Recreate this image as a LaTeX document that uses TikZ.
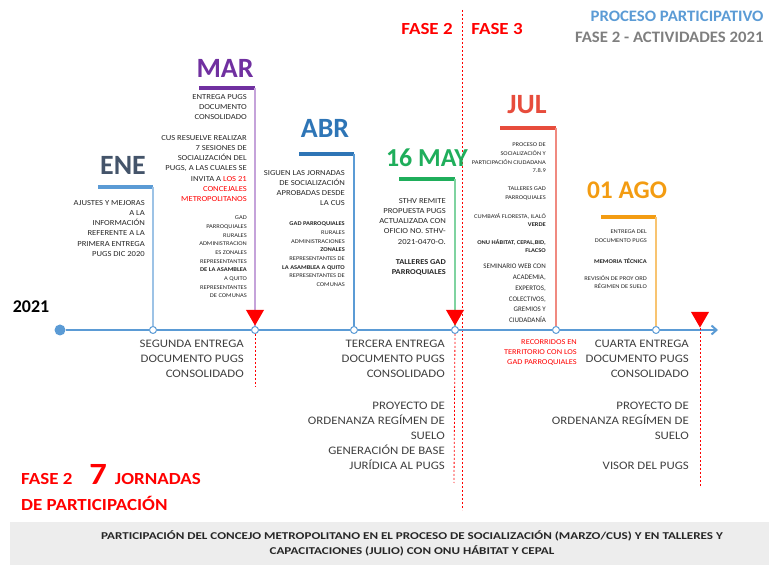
\documentclass[tikz,border=0pt]{standalone}
\usepackage{fontspec}
\setmainfont{Carlito}
\newfontfamily\widefont{Carlito}[FakeStretch=1.12]
\newfontfamily\titlefont{Carlito}[FakeStretch=1.05]
\newfontfamily\boxfont{Carlito}[FakeStretch=1.25]
\usetikzlibrary{positioning,shapes.geometric,arrows.meta}
\definecolor{tlblue}{HTML}{5B9BD5}
\definecolor{tllight}{HTML}{9DC3E6}
\definecolor{enecol}{HTML}{44546A}
\definecolor{marcol}{HTML}{7030A0}
\definecolor{marlight}{HTML}{C5A3DA}
\definecolor{abrcol}{HTML}{2E75B6}
\definecolor{maycol}{HTML}{1FAE5B}
\definecolor{maylight}{HTML}{7FD3A0}
\definecolor{julcol}{HTML}{E74C3C}
\definecolor{jullight}{HTML}{F08A80}
\definecolor{agocol}{HTML}{F39C12}
\definecolor{agolight}{HTML}{F8C471}
\definecolor{txtdark}{HTML}{262626}
\definecolor{txtgray}{HTML}{404040}
\definecolor{titlegray}{HTML}{7F7F7F}
\definecolor{boxgray}{HTML}{EDEDED}
\begin{document}
\begin{tikzpicture}[>=latex,line join=bevel,
  tl/.style={draw=tlblue,line width=2bp},
  evt/.style={circle,draw=tlblue,fill=white,line width=1bp,minimum size=7bp,inner sep=0pt},
  bar/.style={line width=4bp},
  vline/.style={line width=1.2bp},
  heading/.style={font=\bfseries\fontsize{28}{28}\selectfont,inner sep=0pt},
  note/.style={align=right,anchor=north east,inner sep=0pt,text=txtdark,font=\widefont\fontsize{7.7}{10.3}\selectfont},
  tinynote/.style={note,font=\widefont\fontsize{5.8}{8.7}\selectfont},
  bignote/.style={note,text=txtgray,font=\widefont\fontsize{11.5}{15}\selectfont},
  redmark/.style={regular polygon,regular polygon sides=3,shape border rotate=180,fill=red,minimum size=21bp,inner sep=0pt,anchor=corner 1},
  phase/.style={draw=red,dash pattern=on 2bp off 2bp,line width=0.8bp}]
\useasboundingbox (0bp,0bp) rectangle (769bp,565bp);
%%
  % Node: note box
  \node[fill=boxgray,minimum width=759bp,minimum height=43bp,anchor=south west,inner sep=0pt] (notebox) at (10bp,0bp) {};
  \node[font=\boxfont\bfseries\fontsize{10.5}{15}\selectfont,text=txtdark,align=center] (notetxt) at (412bp,22bp)
    {PARTICIPACIÓN DEL CONCEJO METROPOLITANO EN EL PROCESO DE SOCIALIZACIÓN (MARZO/CUS) Y EN TALLERES Y\\CAPACITACIONES (JULIO) CON ONU HÁBITAT Y CEPAL};
  % Edge: fase 2 -> fase 3
  \coordinate (ftop) at (462bp,555bp);
  \coordinate (fbot) at (462bp,55bp);
  \draw[phase] (ftop) -- (fbot);
  % Node: titles
  \node[anchor=east,font=\titlefont\bfseries\fontsize{16}{16}\selectfont,text=tlblue] (proc) at (767bp,549bp) {PROCESO PARTICIPATIVO};
  \node[anchor=east,font=\titlefont\bfseries\fontsize{16}{16}\selectfont,text=titlegray] (act) at (767bp,528bp) {FASE 2 - ACTIVIDADES 2021};
  \node[font=\widefont\bfseries\fontsize{17}{17}\selectfont,text=red] (fasea) at (427bp,536bp) {FASE 2};
  \node[font=\widefont\bfseries\fontsize{17}{17}\selectfont,text=red] (faseb) at (497bp,536bp) {FASE 3};
  \node[font=\bfseries\fontsize{18}{18}\selectfont] (year) at (31bp,258bp) {2021};
  \node[anchor=base west,font=\widefont\bfseries\fontsize{17}{17}\selectfont,text=red,inner sep=0pt] (jorna) at (21bp,80bp)
    {FASE 2\hspace{17bp}{\fontsize{31}{31}\selectfont 7}\hspace{8bp}JORNADAS};
  \node[anchor=base west,font=\widefont\bfseries\fontsize{17}{17}\selectfont,text=red,inner sep=0pt] (jornb) at (21bp,54bp) {DE PARTICIPACIÓN};
  % Node: timeline events
  \node[circle,fill=tlblue,minimum size=11bp,inner sep=0pt] (start) at (60bp,235bp) {};
  \node[evt] (ene) at (153bp,235bp) {};
  \node[evt] (mar) at (255bp,235bp) {};
  \node[evt] (abr) at (354bp,235bp) {};
  \node[evt] (may) at (455bp,235bp) {};
  \node[evt] (jul) at (556bp,235bp) {};
  \node[evt] (ago) at (656bp,235bp) {};
  \coordinate (endmark) at (700bp,237bp);
  \coordinate (tend) at (718bp,235bp);
  % Edge: start -> ene -> ... -> end
  \draw[tl] (start) -- (ene) -- (mar) -- (abr) -- (may) -- (jul) -- (ago);
  \draw[tl,-{Straight Barb[length=5bp,width=9bp]}] (ago) -- (tend);
  % Node: ENE
  \coordinate (eneL) at (98bp,378bp);
  \coordinate (eneR) at (153bp,378bp);
  \draw[bar,tlblue] (eneL) -- (eneR);
  \draw[vline,tllight] (eneR) -- (ene);
  \node[heading,text=enecol] (enehead) at (123bp,400bp) {ENE};
  \node[note] (ene1) at (145bp,365bp) {AJUSTES Y MEJORAS\\A LA\\INFORMACIÓN\\REFERENTE A LA\\PRIMERA ENTREGA\\PUGS DIC 2020};
  % Node: MAR
  \coordinate (marL) at (199bp,477bp);
  \coordinate (marR) at (255bp,477bp);
  \draw[bar,marcol] (marL) -- (marR);
  \draw[vline,marlight] (marR) -- (mar);
  \node[heading,text=marcol] (marhead) at (225bp,497bp) {MAR};
  \node[note] (mar1) at (247bp,471bp) {ENTREGA PUGS\\DOCUMENTO\\CONSOLIDADO};
  \node[note] (mar2) at (247bp,430bp) {CUS RESUELVE REALIZAR\\7 SESIONES DE\\SOCIALIZACIÓN DEL\\PUGS, A LAS CUALES SE\\INVITA A \textcolor{red}{LOS 21}\\\textcolor{red}{CONCEJALES}\\\textcolor{red}{METROPOLITANOS}};
  \node[tinynote] (mar3) at (247bp,349bp) {GAD\\PARROQUIALES\\RURALES\\ADMINISTRACION\\ES ZONALES\\REPRESENTANTES\\\textbf{DE LA ASAMBLEA}\\A QUITO\\REPRESENTANTES\\DE COMUNAS};
  % Node: ABR
  \coordinate (abrL) at (299bp,411bp);
  \coordinate (abrR) at (354bp,411bp);
  \draw[bar,abrcol] (abrL) -- (abrR);
  \draw[vline,tlblue] (abrR) -- (abr);
  \node[heading,text=abrcol] (abrhead) at (325bp,437bp) {ABR};
  \node[note] (abr1) at (345bp,395bp) {SIGUEN LAS JORNADAS\\DE SOCIALIZACIÓN\\APROBADAS DESDE\\LA CUS};
  \node[tinynote] (abr2) at (345bp,343bp) {\textbf{GAD PARROQUIALES}\\RURALES\\ADMINISTRACIONES\\\textbf{ZONALES}\\REPRESENTANTES DE\\\textbf{LA ASAMBLEA A QUITO}\\REPRESENTANTES DE\\COMUNAS};
  % Node: MAY
  \coordinate (mayL) at (399bp,386bp);
  \coordinate (mayR) at (455bp,386bp);
  \draw[bar,maycol] (mayL) -- (mayR);
  \draw[vline,maylight] (mayR) -- (may);
  \node[heading,text=maycol,font=\bfseries\fontsize{26}{26}\selectfont] (mayhead) at (427bp,407bp) {16 MAY};
  \node[note] (may1) at (446bp,367bp) {STHV REMITE\\PROPUESTA PUGS\\ACTUALIZADA CON\\OFICIO NO. STHV-\\2021-0470-O.};
  \node[note,font=\widefont\bfseries\fontsize{7.5}{10.3}\selectfont] (may2) at (446bp,306bp) {TALLERES GAD\\PARROQUIALES};
  % Node: JUL
  \coordinate (julL) at (500bp,437bp);
  \coordinate (julR) at (556bp,437bp);
  \draw[bar,julcol] (julL) -- (julR);
  \draw[vline,jullight] (julR) -- (jul);
  \node[heading,text=julcol] (julhead) at (527bp,460bp) {JUL};
  \node[tinynote] (jul1) at (546bp,422bp) {PROCESO DE\\SOCIALIZACIÓN Y\\PARTICIPACIÓN CIUDADANA\\7.8.9};
  \node[tinynote] (jul2) at (546bp,378bp) {TALLERES GAD\\PARROQUIALES};
  \node[tinynote] (jul3) at (546bp,352bp) {CUMBAYÁ FLORESTA, ILALÓ\\\textbf{VERDE}};
  \node[tinynote,font=\widefont\bfseries\fontsize{5.8}{8.7}\selectfont] (jul4) at (546bp,326bp) {ONU HÁBITAT, CEPAL,BID,\\FLACSO};
  \node[note,font=\fontsize{7}{10.8}\selectfont] (jul5) at (546bp,301bp) {SEMINARIO WEB CON\\ACADEMIA,\\EXPERTOS,\\COLECTIVOS,\\GREMIOS Y\\CIUDADANÍA};
  % Node: AGO
  \coordinate (agoL) at (601bp,348bp);
  \coordinate (agoR) at (656bp,348bp);
  \draw[bar,agocol] (agoL) -- (agoR);
  \draw[vline,agolight] (agoR) -- (ago);
  \node[heading,text=agocol,font=\bfseries\fontsize{25.5}{25.5}\selectfont] (agohead) at (627bp,375bp) {01 AGO};
  \node[tinynote] (ago1) at (647bp,335bp) {ENTREGA DEL\\DOCUMENTO PUGS};
  \node[tinynote,font=\widefont\bfseries\fontsize{5.8}{8.7}\selectfont] (ago2) at (647bp,307bp) {MEMORIA TÉCNICA};
  \node[tinynote] (ago3) at (647bp,290bp) {REVISIÓN DE PROY ORD\\RÉGIMEN DE SUELO};
  % Node: red marks
  \node[redmark] (mk1) at (mar.north) {};
  \node[redmark] (mk2) at (may.north) {};
  \node[redmark] (mk3) at (endmark) {};
  % Edge: marks -> dashed ends
  \coordinate (d1) at (255bp,178bp);
  \coordinate (d2) at (454bp,82bp);
  \coordinate (d3) at (700bp,78bp);
  \draw[phase] (mar.south) -- (d1);
  \draw[phase] (may.south) -- (d2);
  \draw[phase] (endmark) -- (d3);
  % Node: below the line
  \node[bignote] (seg) at (244bp,225bp) {SEGUNDA ENTREGA\\DOCUMENTO PUGS\\CONSOLIDADO};
  \node[bignote] (ter) at (445bp,225bp) {TERCERA ENTREGA\\DOCUMENTO PUGS\\CONSOLIDADO};
  \node[bignote] (ter2) at (445bp,163bp) {PROYECTO DE\\ORDENANZA REGÍMEN DE\\SUELO\\GENERACIÓN DE BASE\\JURÍDICA AL PUGS};
  \node[note,text=red,font=\widefont\fontsize{7.5}{10.5}\selectfont] (rec) at (577bp,226bp) {RECORRIDOS EN\\TERRITORIO CON LOS\\GAD PARROQUIALES};
  \node[bignote] (cua) at (689bp,225bp) {CUARTA ENTREGA\\DOCUMENTO PUGS\\CONSOLIDADO};
  \node[bignote] (cua2) at (689bp,163bp) {PROYECTO DE\\ORDENANZA REGÍMEN DE\\SUELO\\[15bp]VISOR DEL PUGS};
%
\end{tikzpicture}
\end{document}
